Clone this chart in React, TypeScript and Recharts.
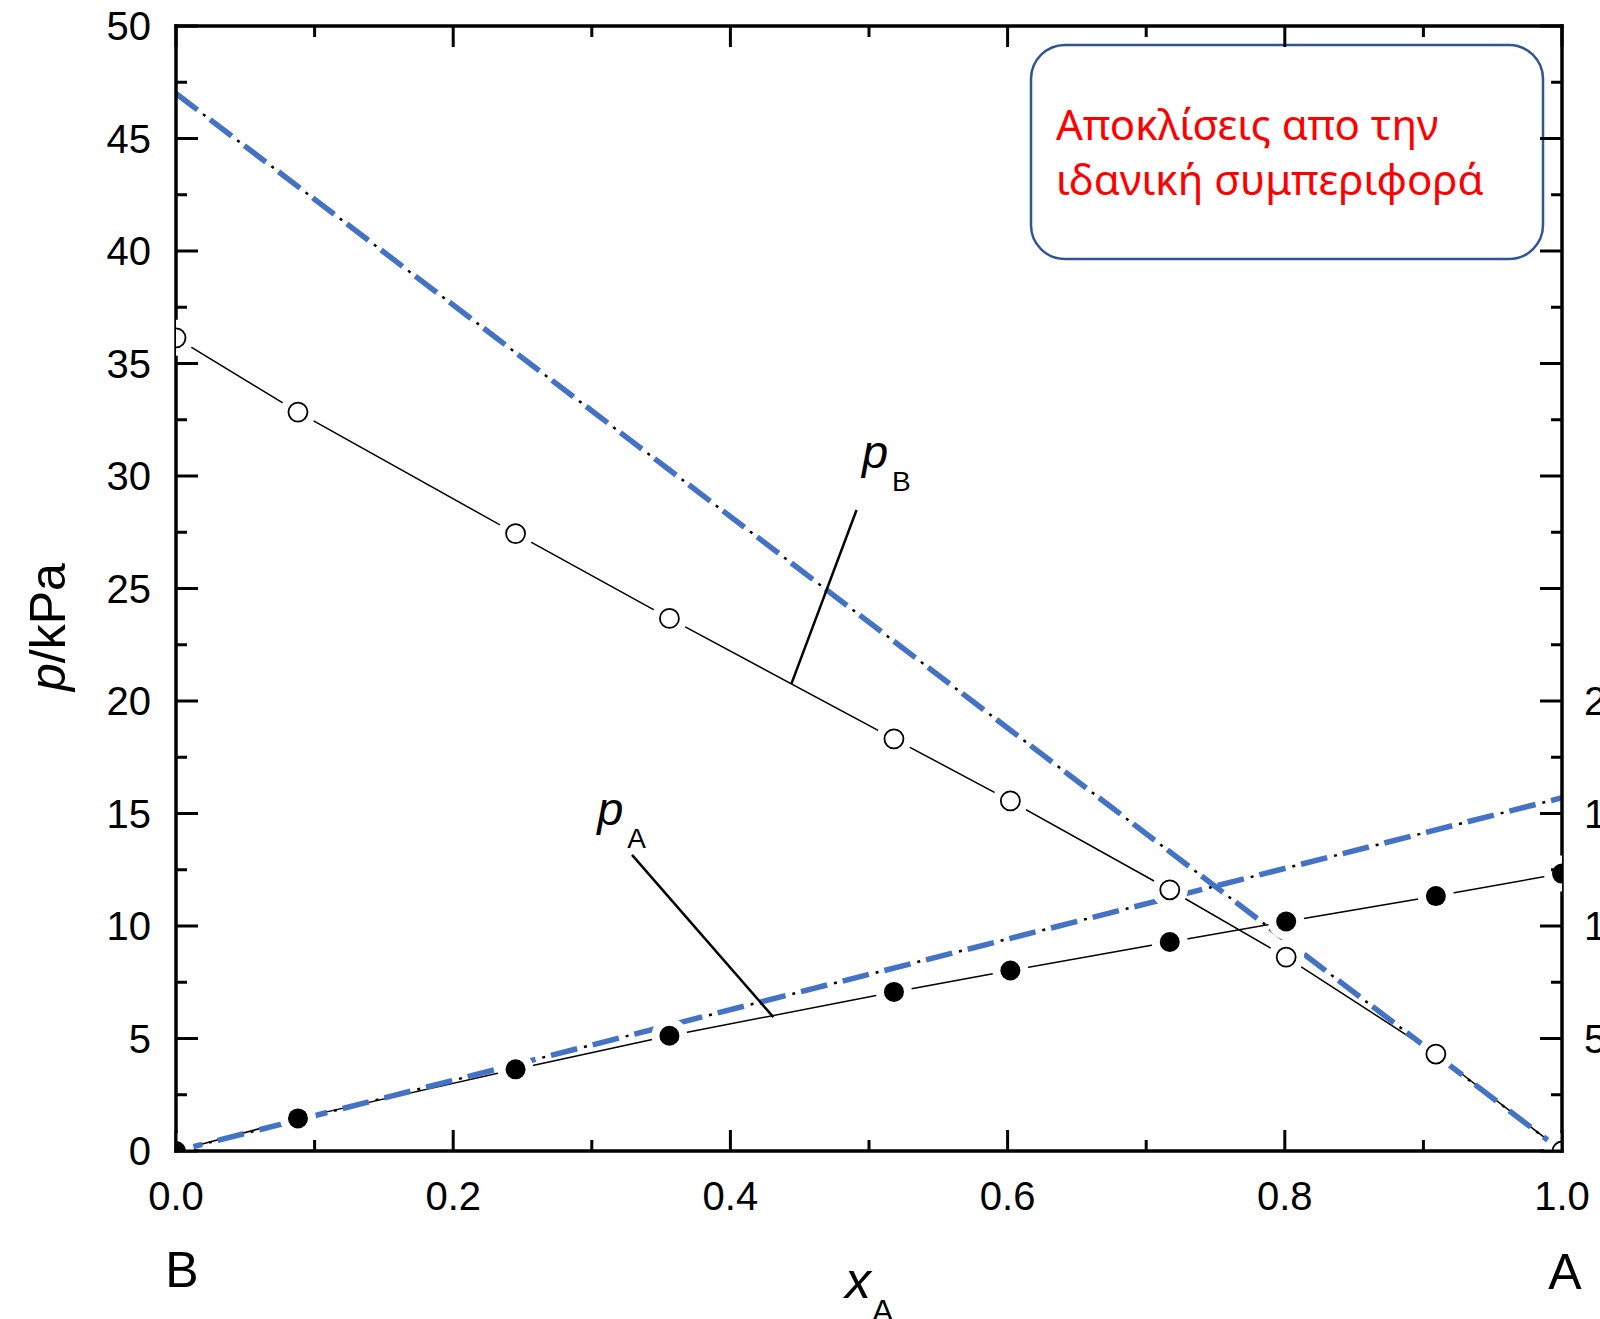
import React from "react";
import {
  ComposedChart,
  Line,
  XAxis,
  YAxis,
  ReferenceLine,
  ReferenceDot,
} from "recharts";

// ---- data ----
const xA = [0, 0.088, 0.245, 0.356, 0.518, 0.602, 0.717, 0.801, 0.909, 1.0];
const pBValues = [36.14, 32.84, 27.44, 23.67, 18.32, 15.56, 11.61, 8.62, 4.31, 0];
const pAValues = [0, 1.45, 3.63, 5.12, 7.07, 8.02, 9.29, 10.2, 11.33, 12.33];

const idealX = [0, 1];
const idealPB = [47, 0];
const idealPA = [0, 15.7];

const xTicks = [0, 0.1, 0.2, 0.3, 0.4, 0.5, 0.6, 0.7, 0.8, 0.9, 1.0];
const yTicks = [0, 2.5, 5, 7.5, 10, 12.5, 15, 17.5, 20, 22.5, 25, 27.5, 30, 32.5, 35, 37.5, 40, 42.5, 45, 47.5, 50];
const rightLabelValues = [5, 10, 15, 20];

const pBLeader = [
  { x: 0.491, y: 28.49 },
  { x: 0.444, y: 20.76 },
];
const pALeader = [
  { x: 0.329, y: 13.16 },
  { x: 0.431, y: 5.95 },
];
const pBLabelAt = { x: 0.495, y: 30.36 };
const pALabelAt = { x: 0.304, y: 14.49 };

const boxLines = ["Αποκλίσεις απο την", "ιδανική συμπεριφορά"];

// ---- derived tables ----
const pBData = xA.map((x, i) => ({ x, y: pBValues[i] }));
const pAData = xA.map((x, i) => ({ x, y: pAValues[i] }));
const idealPBData = idealX.map((x, i) => ({ x, y: idealPB[i] }));
const idealPAData = idealX.map((x, i) => ({ x, y: idealPA[i] }));

const FONT = "'Liberation Sans', Arial, sans-serif";
const BLUE = "#4472C4";

const isMajorX = (v: number) => Math.round(v * 10) % 2 === 0;
const isMajorY = (v: number) => Math.round(v * 10) % 50 === 0;

const BottomTick = (props: any) => {
  const { x, y, payload } = props;
  const v = payload.value as number;
  const major = isMajorX(v);
  return (
    <g>
      <line x1={x} x2={x} y1={y} y2={y - (major ? 21 : 11)} stroke="#000" strokeWidth={3} />
      {major && (
        <text x={x} y={y + 59} textAnchor="middle" fontSize={40} fontFamily={FONT} fill="#000">
          {v.toFixed(1)}
        </text>
      )}
    </g>
  );
};

const TopTick = (props: any) => {
  const { x, y, payload } = props;
  const v = payload.value as number;
  const major = isMajorX(v);
  return <line x1={x} x2={x} y1={y} y2={y + (major ? 21 : 11)} stroke="#000" strokeWidth={3} />;
};

const LeftTick = (props: any) => {
  const { x, y, payload } = props;
  const v = payload.value as number;
  const major = isMajorY(v);
  return (
    <g>
      <line x1={x} x2={x + (major ? 22 : 11)} y1={y} y2={y} stroke="#000" strokeWidth={3} />
      {major && (
        <text x={x - 25} y={y + 14} textAnchor="end" fontSize={40} fontFamily={FONT} fill="#000">
          {String(v)}
        </text>
      )}
    </g>
  );
};

const RightTick = (props: any) => {
  const { x, y, payload } = props;
  const v = payload.value as number;
  const major = isMajorY(v);
  return (
    <g>
      <line x1={x} x2={x - (major ? 22 : 11)} y1={y} y2={y} stroke="#000" strokeWidth={3} />
      {rightLabelValues.includes(v) && (
        <text x={x + 22} y={y + 14} textAnchor="start" fontSize={40} fontFamily={FONT} fill="#000">
          {String(v)}
        </text>
      )}
    </g>
  );
};

const OpenDot = (props: any) => {
  const { cx, cy, index } = props;
  if (cx == null || cy == null) return <g key={`o-${index}`} />;
  return (
    <g key={`o-${index}`}>
      <circle cx={cx} cy={cy} r={18} fill="#fff" />
      <circle cx={cx} cy={cy} r={9.5} fill="#fff" stroke="#000" strokeWidth={1.8} />
    </g>
  );
};

const FilledDot = (props: any) => {
  const { cx, cy, index } = props;
  if (cx == null || cy == null) return <g key={`f-${index}`} />;
  return (
    <g key={`f-${index}`}>
      <circle cx={cx} cy={cy} r={18} fill="#fff" />
      <circle cx={cx} cy={cy} r={10} fill="#000" />
    </g>
  );
};

const makeLabel = (main: string, sub: string, subDx: number) => (props: any) => {
  const { cx, cy } = props;
  return (
    <g>
      <text x={cx} y={cy} fontSize={47} fontStyle="italic" fontFamily={FONT} fill="#000">
        {main}
      </text>
      <text x={cx + subDx} y={cy + 23} fontSize={28} fontFamily={FONT} fill="#000">
        {sub}
      </text>
    </g>
  );
};

const axisLineStyle = { stroke: "#000", strokeWidth: 3.5, strokeLinecap: "square" as const };

export default function App() {
  return (
    <div style={{ position: "absolute", left: 0, top: 0, width: 1600, height: 1319, background: "#fff" }}>
      <svg
        width={1600}
        height={1319}
        style={{ position: "absolute", left: 0, top: 0 }}
      >
        <rect x={1031} y={45} width={512} height={214} rx={34} ry={34} fill="#fff" stroke="#2F5597" strokeWidth={2.5} />
        <text x={1056} y={140} fontSize={42} fontFamily="'Noto Sans', 'Open Sans', sans-serif" fill="#FF0000">
          {boxLines[0]}
        </text>
        <text x={1056} y={195} fontSize={42} fontFamily="'Noto Sans', 'Open Sans', sans-serif" fill="#FF0000">
          {boxLines[1]}
        </text>
        <text transform="translate(65,627) rotate(-90)" x={0} y={0} textAnchor="middle" fontSize={50} fontFamily={FONT} fill="#000">
          <tspan fontStyle="italic">p</tspan>/kPa
        </text>
        <text x={182} y={1287} textAnchor="middle" fontSize={50} fontFamily={FONT} fill="#000">B</text>
        <text x={1565} y={1289} textAnchor="middle" fontSize={50} fontFamily={FONT} fill="#000">A</text>
        <text x={845} y={1298} fontSize={52} fontStyle="italic" fontFamily={FONT} fill="#000">x</text>
        <text x={872} y={1322} fontSize={32} fontFamily={FONT} fill="#000">A</text>
      </svg>
      <div style={{ position: "absolute", left: 0, top: 0 }}>
        <ComposedChart
          width={1600}
          height={1319}
          margin={{ top: 25, right: 0, bottom: 108, left: 116 }}
        >
          <XAxis
            xAxisId="bottom"
            type="number"
            dataKey="x"
            domain={[0, 1]}
            ticks={xTicks}
            interval={0}
            allowDataOverflow
            orientation="bottom"
            height={60}
            tickSize={0}
            tickMargin={0}
            tickLine={false}
            axisLine={axisLineStyle}
            tick={<BottomTick />}
          />
          <XAxis
            xAxisId="top"
            type="number"
            dataKey="x"
            domain={[0, 1]}
            ticks={xTicks}
            interval={0}
            allowDataOverflow
            orientation="top"
            height={1}
            tickSize={0}
            tickMargin={0}
            tickLine={false}
            axisLine={axisLineStyle}
            tick={<TopTick />}
          />
          <YAxis
            yAxisId="left"
            type="number"
            domain={[0, 50]}
            ticks={yTicks}
            interval={0}
            allowDataOverflow
            orientation="left"
            width={60}
            tickSize={0}
            tickMargin={0}
            tickLine={false}
            axisLine={axisLineStyle}
            tick={<LeftTick />}
          />
          <YAxis
            yAxisId="right"
            type="number"
            domain={[0, 50]}
            ticks={yTicks}
            interval={0}
            allowDataOverflow
            orientation="right"
            width={38}
            tickSize={0}
            tickMargin={0}
            tickLine={false}
            axisLine={axisLineStyle}
            tick={<RightTick />}
          />

          <Line
            xAxisId="bottom"
            yAxisId="left"
            data={pBData}
            dataKey="y"
            type="linear"
            stroke="#000"
            strokeWidth={1.5}
            dot={OpenDot}
            activeDot={false}
            isAnimationActive={false}
          />
          <Line
            xAxisId="bottom"
            yAxisId="left"
            data={pAData}
            dataKey="y"
            type="linear"
            stroke="#000"
            strokeWidth={1.5}
            dot={FilledDot}
            activeDot={false}
            isAnimationActive={false}
          />

          <Line
            xAxisId="top"
            yAxisId="right"
            data={idealPBData}
            dataKey="y"
            type="linear"
            stroke="#000"
            strokeWidth={2.5}
            strokeDasharray="0 34 3 6"
            dot={false}
            activeDot={false}
            isAnimationActive={false}
          />
          <Line
            xAxisId="top"
            yAxisId="right"
            data={idealPAData}
            dataKey="y"
            type="linear"
            stroke="#000"
            strokeWidth={2.5}
            strokeDasharray="0 34 3 6"
            dot={false}
            activeDot={false}
            isAnimationActive={false}
          />
          <Line
            xAxisId="top"
            yAxisId="right"
            data={idealPBData}
            dataKey="y"
            type="linear"
            stroke={BLUE}
            strokeWidth={5.5}
            strokeDasharray="27 16"
            dot={false}
            activeDot={false}
            isAnimationActive={false}
          />
          <Line
            xAxisId="top"
            yAxisId="right"
            data={idealPAData}
            dataKey="y"
            type="linear"
            stroke={BLUE}
            strokeWidth={5.5}
            strokeDasharray="27 16"
            dot={false}
            activeDot={false}
            isAnimationActive={false}
          />

          <ReferenceLine
            xAxisId="bottom"
            yAxisId="left"
            segment={pBLeader}
            stroke="#000"
            strokeWidth={2.5}
          />
          <ReferenceLine
            xAxisId="bottom"
            yAxisId="left"
            segment={pALeader}
            stroke="#000"
            strokeWidth={2.5}
          />
          <ReferenceDot
            xAxisId="bottom"
            yAxisId="left"
            x={pBLabelAt.x}
            y={pBLabelAt.y}
            r={0}
            shape={makeLabel("p", "B", 30)}
          />
          <ReferenceDot
            xAxisId="bottom"
            yAxisId="left"
            x={pALabelAt.x}
            y={pALabelAt.y}
            r={0}
            shape={makeLabel("p", "A", 30)}
          />
        </ComposedChart>
      </div>
    </div>
  );
}
